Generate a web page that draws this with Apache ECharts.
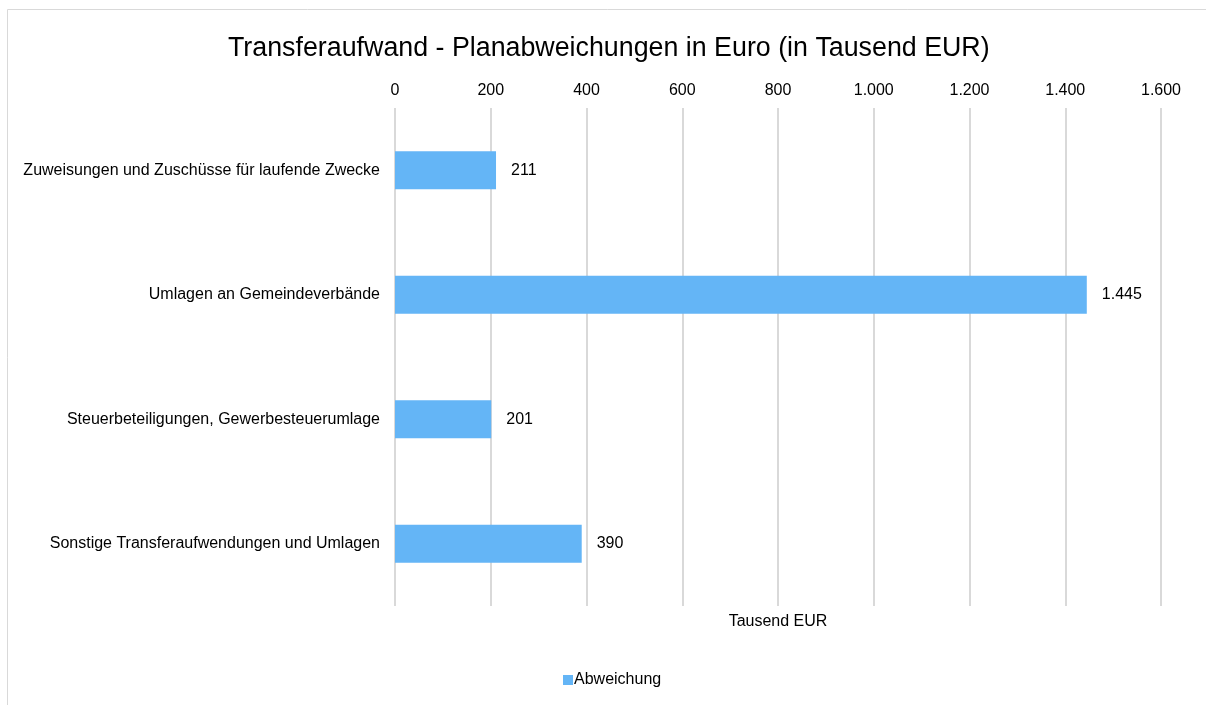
<!DOCTYPE html>
<html>
<head>
<meta charset="utf-8">
<script src="https://cdn.jsdelivr.net/npm/echarts@6/dist/echarts.min.js"></script>
<style>html,body{margin:0;padding:0;background:#fff;}#c{width:1206px;height:705px;}</style>
</head>
<body>
<div id="c"></div>
<script>
const categories = [
  'Zuweisungen und Zuschüsse für laufende Zwecke',
  'Umlagen an Gemeindeverbände',
  'Steuerbeteiligungen, Gewerbesteuerumlage',
  'Sonstige Transferaufwendungen und Umlagen'
];
const values = [211, 1445, 201, 390];
const seriesName = 'Abweichung';
const axisName = 'Tausend EUR';
const titleText = 'Transferaufwand - Planabweichungen in Euro (in Tausend EUR)';

function de(v) {
  return String(Math.round(v)).replace(/\B(?=(\d{3})+(?!\d))/g, '.');
}
const font = 'Liberation Sans, Arial, sans-serif';
const chart = echarts.init(document.getElementById('c'), null, {renderer: 'canvas'});
chart.setOption({
  animation: false,
  textStyle: {fontFamily: font},
  graphic: [{
    type: 'rect', silent: true, z: -1,
    shape: {x: 7.5, y: 9.5, width: 1300, height: 800},
    style: {fill: 'none', stroke: '#d9d9d9', lineWidth: 1}
  }],
  title: {
    text: titleText, left: 223, top: 30,
    textStyle: {fontSize: 26.8, fontWeight: 'normal', color: '#000', fontFamily: font}
  },
  legend: {
    bottom: 12, left: 558, itemWidth: 10, itemHeight: 10, itemGap: 10,
    icon: 'rect',
    textStyle: {fontSize: 16, color: '#000', fontFamily: font, padding: [0,0,0,-4]},
    data: [seriesName]
  },
  grid: {left: 395, right: 45, top: 108, bottom: 99, containLabel: false},
  xAxis: [{
    type: 'value', position: 'top', min: 0, max: 1600, interval: 200,
    axisLine: {show: false}, axisTick: {show: false},
    axisLabel: {fontSize: 16, color: '#000', margin: 9, formatter: de, fontFamily: font},
    splitLine: {show: true, lineStyle: {color: '#d9d9d9', width: 2}}
  }, {
    type: 'value', position: 'bottom', min: 0, max: 1600, interval: 200,
    axisLine: {show: false}, axisTick: {show: false}, axisLabel: {show: false},
    splitLine: {show: false},
    name: axisName, nameLocation: 'middle', nameGap: 8,
    nameTextStyle: {fontSize: 16, color: '#000', fontFamily: font}
  }],
  yAxis: {
    type: 'category', data: categories, inverse: true,
    axisLine: {show: false}, axisTick: {show: false},
    axisLabel: {fontSize: 16, color: '#000', margin: 15, fontFamily: font}
  },
  series: [{
    name: seriesName, type: 'bar', data: values, barWidth: 38,
    xAxisIndex: 0,
    itemStyle: {color: '#64b5f6'},
    label: {show: true, position: 'right', distance: 15, fontSize: 16, color: '#000',
      fontFamily: font, formatter: p => de(p.value)}
  }]
});
</script>
</body>
</html>
